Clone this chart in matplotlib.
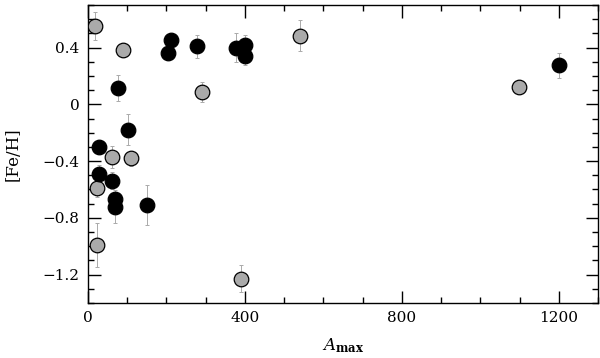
import matplotlib
matplotlib.use("Agg")
import matplotlib.pyplot as plt
from matplotlib.ticker import MultipleLocator, FixedLocator

# Black (filled) points
black_x = [212, 203.5, 279, 378, 399, 399, 77.5, 103, 29, 28, 62, 70, 70, 151.5, 1200]
black_y = [0.455, 0.363, 0.41, 0.40, 0.42, 0.344, 0.114, -0.18, -0.30, -0.49, -0.54, -0.667, -0.725, -0.71, 0.274]
black_err = [0.05, 0.05, 0.08, 0.10, 0.07, 0.07, 0.09, 0.11, 0.05, 0.06, 0.06, 0.06, 0.11, 0.14, 0.09]

# Gray points
gray_x = [18.7, 89, 540, 290, 60.5, 110, 22, 22, 391, 1099]
gray_y = [0.552, 0.381, 0.484, 0.084, -0.372, -0.381, -0.59, -0.99, -1.228, 0.124]
gray_err = [0.10, 0.05, 0.11, 0.07, 0.08, 0.05, 0.06, 0.155, 0.095, 0.03]

plt.rcParams['font.family'] = ['DejaVu Serif']
plt.rcParams['mathtext.fontset'] = 'dejavuserif'

fig = plt.figure(figsize=(6, 3.58), dpi=100)
ax = fig.add_axes([0.1467, 0.1536, 0.85, 0.8324])

ecol = '#aaaaaa'
ax.errorbar(black_x, black_y, yerr=black_err, fmt='none', ecolor=ecol, elinewidth=0.7, capsize=1.5, capthick=0.7, zorder=1)
ax.errorbar(gray_x, gray_y, yerr=gray_err, fmt='none', ecolor=ecol, elinewidth=0.7, capsize=1.5, capthick=0.7, zorder=1)
ax.plot(gray_x, gray_y, 'o', ms=10.5, mfc='#aaaaaa', mec='black', mew=0.9, ls='none', zorder=3)
ax.plot(black_x, black_y, 'o', ms=10.5, mfc='black', mec='black', mew=0.9, ls='none', zorder=3)

ax.set_xlim(0, 1300)
ax.set_ylim(-1.4, 0.7)
ax.xaxis.set_major_locator(FixedLocator([0, 400, 800, 1200]))
ax.xaxis.set_minor_locator(MultipleLocator(100))
ax.yaxis.set_major_locator(FixedLocator([-1.2, -0.8, -0.4, 0, 0.4]))
ax.yaxis.set_minor_locator(MultipleLocator(0.1))
ax.set_xticklabels(['0', '400', '800', '1200'])
ax.set_yticklabels(['\u22121.2', '\u22120.8', '\u22120.4', '0', '0.4'])
ax.tick_params(which='both', direction='in', top=True, right=True, width=1)
ax.tick_params(which='major', length=9, labelsize=11, pad=6)
ax.tick_params(which='minor', length=4.5)
for s in ax.spines.values():
    s.set_linewidth(1.0)

ax.set_xlabel(r'$A_{\mathsf{\mathbf{max}}}$', fontsize=12, labelpad=8)
ax.set_ylabel('[Fe/H]', fontsize=12, labelpad=15)

fig.savefig('out.png', dpi=100)
